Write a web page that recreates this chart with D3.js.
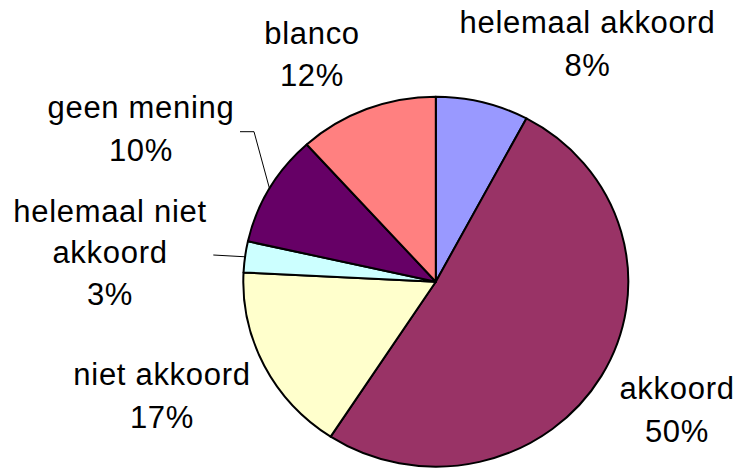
<!DOCTYPE html>
<html>
<head>
<meta charset="utf-8">
<script src="https://cdn.jsdelivr.net/npm/d3@7"></script>
<style>
html,body{margin:0;padding:0;background:#fff;}
svg{display:block;}
text{font-family:"Liberation Sans",Arial,sans-serif;font-size:31px;fill:#000;letter-spacing:0.7px;}
</style>
</head>
<body>
<svg id="chart" width="744" height="469"></svg>
<script>
// Data (slice shares; labels as printed)
const categories = ["helemaal akkoord", "akkoord", "niet akkoord", "helemaal niet akkoord", "geen mening", "blanco"];
const values = [7.8, 51.4, 16.6, 2.7, 9.8, 11.7];
const percentLabels = ["8%", "50%", "17%", "3%", "10%", "12%"];
const colors = ["#9999FF", "#993366", "#FFFFCC", "#CCFFFF", "#660066", "#FF8080"];

// label text lines per category
const labelLines = [
  ["helemaal akkoord", "8%"],
  ["akkoord", "50%"],
  ["niet akkoord", "17%"],
  ["helemaal niet", "akkoord", "3%"],
  ["geen mening", "10%"],
  ["blanco", "12%"]
];
// label anchor (center x, first baseline y)
const labelPos = [
  [587.5, 33], [677, 399], [162, 385], [110, 221.7], [141, 118.3], [312, 44.3]
];
const lineGap = [43, 42.7, 43.3, 41.7, 42.4, 41.7];

const cx = 435.8, cy = 281.7, rx = 192.5, ry = 185;
const svg = d3.select("#chart");

const pie = d3.pie().sort(null).value(d => d);
const arcs = pie(values);
const arc = d3.arc().innerRadius(0).outerRadius(ry);

const g = svg.append("g")
  .attr("transform", `translate(${cx},${cy}) scale(${rx / ry},1)`);

g.selectAll("path")
  .data(arcs)
  .join("path")
  .attr("d", arc)
  .attr("fill", (d, i) => colors[i])
  .attr("stroke", "#000")
  .attr("stroke-width", 2)
  .attr("stroke-linejoin", "round")
  .attr("vector-effect", "non-scaling-stroke");

// leader lines for the small left-hand slices
function rimPoint(d) {
  const a = (d.startAngle + d.endAngle) / 2;
  return [cx + rx * Math.sin(a), cy - ry * Math.cos(a)];
}
const leaders = [
  { i: 4, pts: [[240, 131.7], [254, 131.7]] },
  { i: 3, pts: [[213.3, 255]] }
];
leaders.forEach(l => {
  const p = l.pts.concat([rimPoint(arcs[l.i])]);
  svg.append("path")
    .attr("d", d3.line()(p))
    .attr("fill", "none")
    .attr("stroke", "#000")
    .attr("stroke-width", 1);
});

// labels
categories.forEach((c, i) => {
  const t = svg.append("text")
    .attr("text-anchor", "middle")
    .attr("x", labelPos[i][0])
    .attr("y", labelPos[i][1]);
  labelLines[i].forEach((s, k) => {
    t.append("tspan")
      .attr("x", labelPos[i][0])
      .attr("y", labelPos[i][1] + k * lineGap[i])
      .text(s);
  });
});
</script>
</body>
</html>
